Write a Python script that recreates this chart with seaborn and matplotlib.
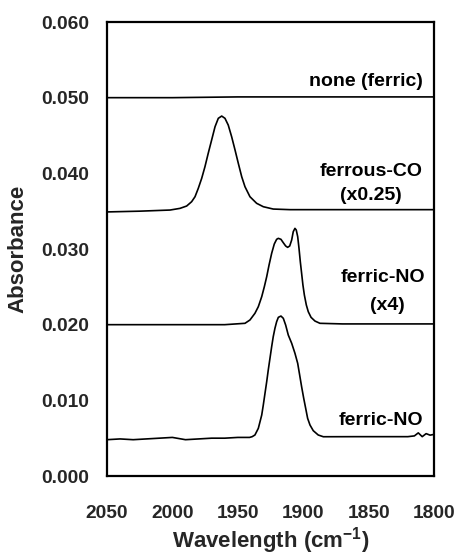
import matplotlib
matplotlib.use("Agg")
import matplotlib.pyplot as plt
from matplotlib.ticker import FormatStrFormatter, MultipleLocator
import seaborn as sns
import pandas as pd

# ---- data ----
none_w = [2050, 2000, 1950, 1900, 1850, 1800]
none_a = [0.0500, 0.0500, 0.0501, 0.0501, 0.0501, 0.0501]

co_w = [2050, 2025, 2001.8, 1994.2, 1989.1, 1985.3, 1982.7, 1980.2, 1977.6, 1975.1,
        1972.6, 1970.0, 1967.4, 1964.9, 1962.3, 1959.8, 1957.3, 1954.7, 1952.1,
        1949.6, 1947.0, 1944.5, 1940.7, 1935.6, 1930.5, 1922.9, 1910, 1880,
        1850, 1800]
co_a = [0.0349, 0.0350, 0.03515, 0.03537, 0.03568, 0.03625, 0.03691, 0.03802,
        0.03934, 0.04088, 0.04265, 0.04440, 0.04616, 0.04727, 0.04757, 0.04727,
        0.04638, 0.04484, 0.04308, 0.04132, 0.03955, 0.03823, 0.03691, 0.03604,
        0.03559, 0.03528, 0.0352, 0.0352, 0.0352, 0.0352]

nox4_w = [2050, 2000, 1960, 1944.5, 1940.7, 1936.9, 1934.3, 1931.7, 1929.7, 1927.9,
          1926.1, 1924.1, 1922.1, 1920.3, 1919.0, 1917.0, 1915.2, 1913.4, 1911.9,
          1910.3, 1908.8, 1907.6, 1906.3, 1905.3, 1904.2, 1903.2, 1902.2, 1901.2,
          1900.2, 1899.1, 1897.6, 1896.1, 1894.0, 1891.0, 1887.2, 1870, 1850, 1800]
nox4_a = [0.0200, 0.0200, 0.0200, 0.02018, 0.02062, 0.02150, 0.02238, 0.02370,
          0.02502, 0.02634, 0.02788, 0.02943, 0.03066, 0.03128, 0.03141, 0.03128,
          0.03083, 0.03040, 0.03022, 0.03040, 0.03119, 0.03229, 0.03273, 0.03251,
          0.03163, 0.03009, 0.02832, 0.02679, 0.02524, 0.02392, 0.02260, 0.02171,
          0.02097, 0.02048, 0.02018, 0.0201, 0.0201, 0.0201]

no_w = [2050, 2040, 2030, 2020, 2010, 2000, 1990, 1980, 1970, 1960, 1950, 1941,
        1939, 1936.9, 1934.3, 1931.7, 1930.5, 1929.2, 1927.9, 1926.7, 1925.4,
        1924.1, 1922.9, 1921.6, 1920.3, 1919.0, 1917.0, 1915.2, 1913.4, 1911.4,
        1908.8, 1906.3, 1904.2, 1902.7, 1901.2, 1899.6, 1898.1, 1896.6, 1894.8,
        1892.3, 1888.5, 1884.6, 1860, 1840, 1820, 1815, 1812, 1809, 1806, 1803,
        1800]
no_a = [0.0048, 0.0049, 0.0048, 0.0049, 0.0050, 0.0051, 0.0048, 0.0049, 0.0050,
        0.0050, 0.0051, 0.0051, 0.0052, 0.00542, 0.00630, 0.00806, 0.00938,
        0.01093, 0.01246, 0.01401, 0.01555, 0.01709, 0.01841, 0.01952, 0.02039,
        0.02097, 0.02114, 0.02084, 0.01995, 0.01863, 0.01754, 0.01622, 0.01489,
        0.01335, 0.01180, 0.01027, 0.00895, 0.00762, 0.00674, 0.00599, 0.00542,
        0.00519, 0.0052, 0.0052, 0.0052, 0.0053, 0.0057, 0.0052, 0.0056, 0.0054,
        0.0055]

labels = ["none (ferric)", "ferrous-CO", "(x0.25)", "ferric-NO", "(x4)", "ferric-NO"]
x_ticks = [2050, 2000, 1950, 1900, 1850, 1800]
y_ticks = [0.000, 0.010, 0.020, 0.030, 0.040, 0.050, 0.060]

series = {"none": (none_w, none_a), "co": (co_w, co_a),
          "nox4": (nox4_w, nox4_a), "no": (no_w, no_a)}

sns.set_style("white")
plt.rcParams["font.family"] = ["Liberation Sans", "DejaVu Sans"]
plt.rcParams["font.weight"] = "bold"
plt.rcParams["mathtext.fontset"] = "custom"
plt.rcParams["mathtext.bf"] = "Liberation Sans:bold"
plt.rcParams["mathtext.rm"] = "Liberation Sans:bold"

fig = plt.figure(figsize=(4.59, 5.57), dpi=100)
ax = fig.add_axes([0.2331, 0.1454, 0.9455 - 0.2331, 0.9605 - 0.1454])

for name, (w, a) in series.items():
    df = pd.DataFrame({"w": w, "a": a})
    sns.lineplot(data=df, x="w", y="a", color="black", linewidth=1.2,
                 estimator=None, ax=ax, solid_joinstyle="round",
                 solid_capstyle="round")

ax.set_xlim(2050, 1800)
ax.set_ylim(0.0, 0.060)
ax.set_xticks(x_ticks)
ax.xaxis.set_minor_locator(MultipleLocator(25))
ax.set_yticks(y_ticks)
ax.yaxis.set_major_formatter(FormatStrFormatter("%.3f"))
ax.xaxis.set_major_formatter(FormatStrFormatter("%d"))

ax.tick_params(axis="x", which="both", direction="in", length=4.5, width=1.0,
               pad=21, labelsize=13.8, color="black")
ax.tick_params(axis="y", which="both", direction="in", length=4.5, width=1.0,
               pad=13, labelsize=13.8, color="black")
for lab in ax.get_xticklabels() + ax.get_yticklabels():
    lab.set_fontweight("bold")

for s in ax.spines.values():
    s.set_visible(True)
    s.set_color("black")
    s.set_linewidth(1.6)

ax.set_xlabel("Wavelength (cm$^{-1}$)", fontsize=16, fontweight="bold", labelpad=2)
ax.set_ylabel("Absorbance", fontsize=16, fontweight="bold", labelpad=9)

tk = dict(fontsize=14, fontweight="bold", color="black")
ax.text(1808.4, 0.0521, labels[0], ha="right", va="center", **tk)
ax.text(1848.3, 0.0402, labels[1], ha="center", va="center", **tk)
ax.text(1848.3, 0.0371, labels[2], ha="center", va="center", **tk)
ax.text(1839, 0.0263, labels[3], ha="center", va="center", **tk)
ax.text(1836, 0.0226, labels[4], ha="center", va="center", **tk)
ax.text(1808.4, 0.0074, labels[5], ha="right", va="center", **tk)

fig.savefig("out.png", dpi=100)
